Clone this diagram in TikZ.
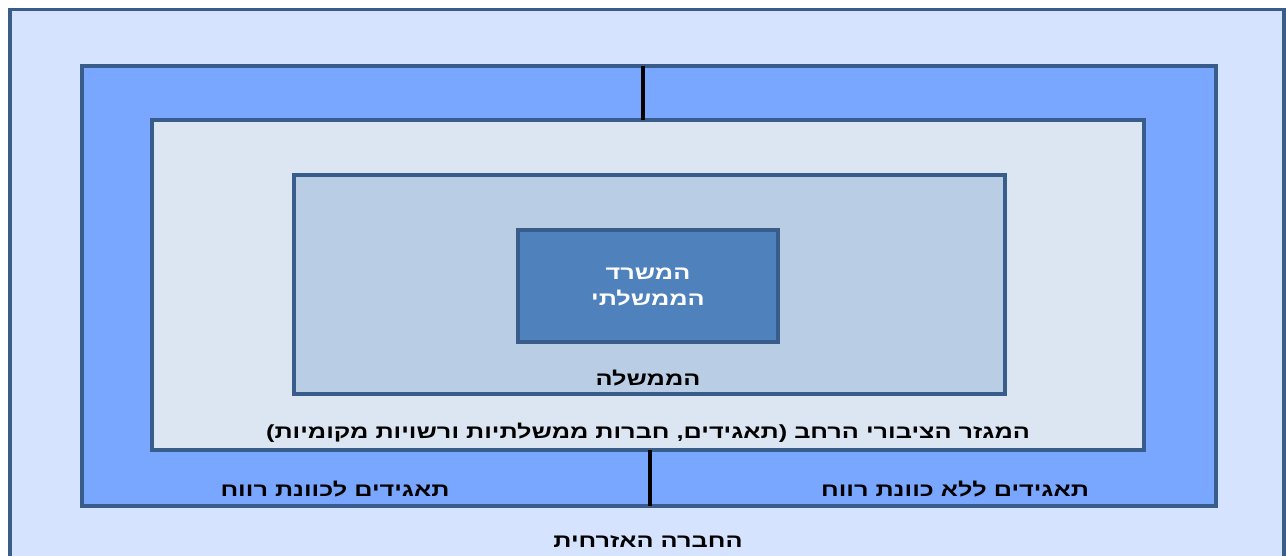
\documentclass[tikz,border=0pt]{standalone}
\usepackage{fontspec}
\TeXXeTstate=1
\newfontfamily\heb[Script=Hebrew]{Liberation Sans}
\newcommand{\hwide}[1]{\scalebox{1.33}[1]{\beginR #1\endR}}
\definecolor{outerfill}{HTML}{D6E3FE}
\definecolor{bluefill}{HTML}{79A6FF}
\definecolor{lightfill}{HTML}{DCE6F2}
\definecolor{govfill}{HTML}{B9CDE5}
\definecolor{minfill}{HTML}{4F81BD}
\definecolor{edge}{HTML}{385D8A}
\tikzset{
  layer/.style={draw=edge, line width=3.5pt, rectangle, inner sep=0pt},
  lbl/.style={font=\heb\bfseries\fontsize{19}{22}\selectfont, text=black, inner sep=0pt},
  wlbl/.style={lbl, text=white, align=center},
  divider/.style={draw=black, line width=4.5pt},
}
\begin{document}
\begin{tikzpicture}[x=1pt,y=-1pt]
\useasboundingbox (0,0) rectangle (1286,556);
\clip (0,0) rectangle (1286,556);
\node[layer, fill=outerfill, minimum width=1274pt, minimum height=610pt] (outer) at (647,314.5) {};
\node[layer, fill=bluefill, minimum width=1134pt, minimum height=440pt] (blue) at (649,286) {};
\node[layer, fill=lightfill, minimum width=992pt, minimum height=330pt] (light) at (648,285) {};
\node[layer, fill=govfill, minimum width=711pt, minimum height=219pt] (gov) at (649.5,284.5) {};
\node[layer, fill=minfill, minimum width=260pt, minimum height=112pt] (min) at (648,286) {};
\coordinate (dt1) at (643,66);
\coordinate (dt2) at (643,120);
\coordinate (db1) at (650,450);
\coordinate (db2) at (650,506);
\draw[divider] (dt1) -- (dt2);
\draw[divider] (db1) -- (db2);
\node[wlbl] (minlbl) at (648,287) {\hwide{המשרד}\\[4pt]\hwide{הממשלתי}};
\node[lbl] (govlbl) at (648,378) {\hwide{הממשלה}};
\node[lbl] (lightlbl) at (648,433) {\hwide{המגזר הציבורי הרחב (תאגידים, חברות ממשלתיות ורשויות מקומיות)}};
\node[lbl] (leftlbl) at (335,489) {\hwide{תאגידים לכוונת רווח}};
\node[lbl] (rightlbl) at (955,489) {\hwide{תאגידים ללא כוונת רווח}};
\node[lbl] (outerlbl) at (648,542) {\hwide{החברה האזרחית}};
\end{tikzpicture}
\end{document}
